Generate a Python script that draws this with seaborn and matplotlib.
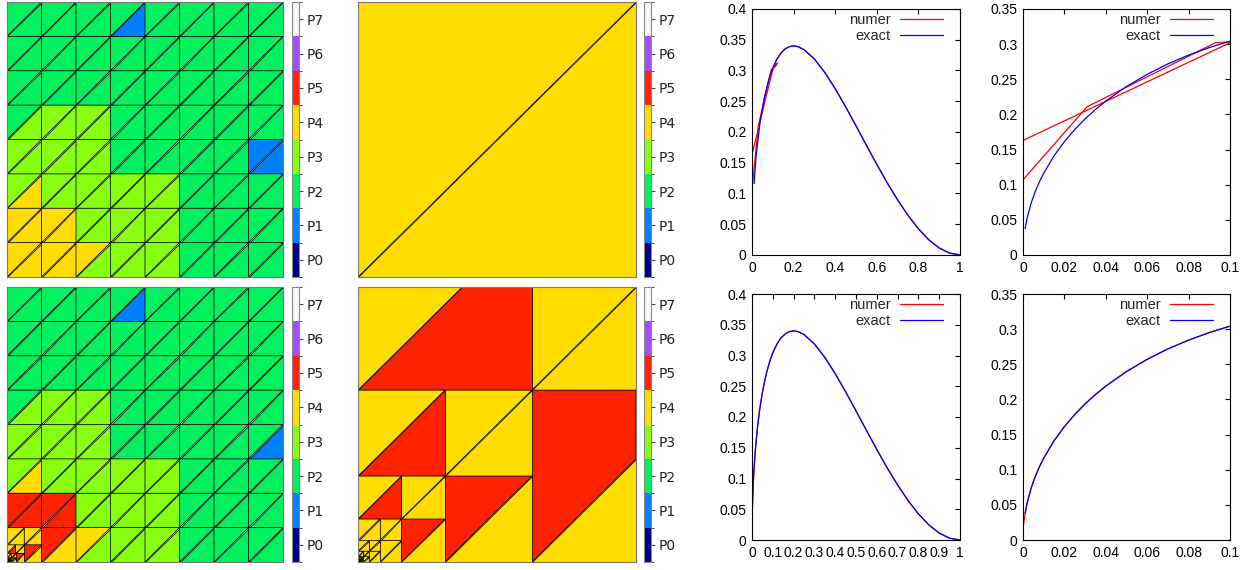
import numpy as np
import pandas as pd
import matplotlib
matplotlib.use("Agg")
import matplotlib.pyplot as plt
from matplotlib.collections import PolyCollection
from matplotlib.colors import ListedColormap, BoundaryNorm
import seaborn as sns

# ---------------------------------------------------------------- data
degree_labels = ["P0", "P1", "P2", "P3", "P4", "P5", "P6", "P7"]
degree_colors = ["#00007f", "#0080ff", "#00f060", "#88ff10",
                 "#ffdd00", "#ff2200", "#a64dff", "#fbf7ff"]

# 8x8 coarse meshes, rows from top; two digits per cell: upper-left, lower-right triangle
coarse_top = [
    "2222222122222222",
    "2222222222222222",
    "2222222222222222",
    "2333332222222222",
    "3333332222222211",
    "3433333333222222",
    "4444333333222222",
    "4444433333222222",
]
coarse_bottom = [
    "2222222122222222",
    "2222222222222222",
    "2222222222222222",
    "2333332222222222",
    "3333332222222221",
    "3433333333222222",
    "5555333333222222",
    "RR54433333222222",
]
# refined corner cell (quadtree): per level (top-left, top-right, bottom-right)
corner_levels = [("44", "44", "54"), ("45", "44", "54"), ("44", "44", "54"),
                 ("44", "44", "44"), ("44", "44", "44"), ("44", "44", "44")]
corner_core = "44"

single_mesh = "44"

# graded mesh toward the corner
graded_splits = [0.625, 0.3125, 0.15625, 0.078125, 0.0390625,
                 0.01953125, 0.009765625, 0.0048828125]
# per level: square U, square L, left tri, left other, right other, right tri
graded_codes = ["444554", "444554", "444554", "444444",
                "444444", "444444", "444444", "444444"]
graded_core = "44"

# curves
exact_coarse_x = [0.01, 0.02, 0.04, 0.06, 0.08, 0.10, 0.12, 0.14, 0.16, 0.18, 0.20, 0.22,
                  0.25, 0.30, 0.35, 0.40, 0.45, 0.50, 0.55, 0.60, 0.65, 0.70, 0.75, 0.80,
                  0.85, 0.90, 0.95, 1.00]
exact_coarse_y = [0.1164, 0.1613, 0.2190, 0.2571, 0.2844, 0.3043, 0.3187, 0.3288, 0.3353,
                  0.3389, 0.3400, 0.3390, 0.3341, 0.3188, 0.2970, 0.2705, 0.2411, 0.2100,
                  0.1784, 0.1472, 0.1173, 0.0895, 0.0643, 0.0425, 0.0246, 0.0113, 0.0029,
                  0.0000]
exact_fine_x = [0.001, 0.002, 0.004, 0.006, 0.008, 0.010, 0.015, 0.020, 0.025, 0.030,
                0.035, 0.040, 0.050, 0.060, 0.070, 0.080, 0.090, 0.100]
exact_fine_y = [0.0375, 0.0529, 0.0745, 0.0909, 0.1046, 0.1164, 0.1412, 0.1613, 0.1786,
                0.1936, 0.2070, 0.2190, 0.2397, 0.2571, 0.2719, 0.2844, 0.2951, 0.3043]

# coarse numerical solution (three pieces)
numer_top_a_x = [0.0, 0.100, 0.123, 0.107]
numer_top_a_y = [0.163, 0.302, 0.312, 0.308]
numer_top_b_x = [0.0, 0.031, 0.093, 0.100, 0.118]
numer_top_b_y = [0.107, 0.211, 0.302, 0.303, 0.309]
numer_top_c_x = [0.10, 0.12, 0.14, 0.16, 0.18, 0.20, 0.22, 0.25, 0.30, 0.35, 0.40, 0.45,
                 0.50, 0.55, 0.60, 0.65, 0.70, 0.75, 0.80, 0.85, 0.90, 0.95, 1.00]
numer_top_c_y = [0.3030, 0.3185, 0.3287, 0.3352, 0.3388, 0.3399, 0.3389, 0.3338, 0.3184,
                 0.2966, 0.2703, 0.2410, 0.2100, 0.1786, 0.1474, 0.1175, 0.0897, 0.0645,
                 0.0428, 0.0249, 0.0116, 0.0031, 0.0002]
# refined numerical solution
numer_near0_x = [0.0, 0.0002, 0.0005]
numer_near0_y = [0.013, 0.020, 0.027]
exact_near0_x = [0.0002]
exact_near0_y = [0.0168]

top_xticks_full = [0, 0.2, 0.4, 0.6, 0.8, 1.0]
top_xlabels_full = ["0", "0.2", "0.4", "0.6", "0.8", "1"]
bot_xticks_full = [0, 0.1, 0.2, 0.3, 0.4, 0.5, 0.6, 0.7, 0.8, 0.9, 1.0]
bot_xlabels_full = ["0", "0.1", "0.2", "0.3", "0.4", "0.5", "0.6", "0.7", "0.8", "0.9", "1"]
xticks_zoom = [0, 0.02, 0.04, 0.06, 0.08, 0.1]
xlabels_zoom = ["0", "0.02", "0.04", "0.06", "0.08", "0.1"]
yticks_full = [0, 0.05, 0.1, 0.15, 0.2, 0.25, 0.3, 0.35, 0.4]
ylabels_full = ["0", "0.05", "0.1", "0.15", "0.2", "0.25", "0.3", "0.35", "0.4"]
yticks_zoom = [0, 0.05, 0.1, 0.15, 0.2, 0.25, 0.3, 0.35]
ylabels_zoom = ["0", "0.05", "0.1", "0.15", "0.2", "0.25", "0.3", "0.35"]

# ---------------------------------------------------------------- style
sns.set_style("white")
plt.rcParams["font.family"] = ["DejaVu Sans"]

cmap = ListedColormap(degree_colors)
norm = BoundaryNorm(np.arange(-0.5, 8.5, 1.0), cmap.N)

W, H = 1257, 570
fig = plt.figure(figsize=(W / 100, H / 100), dpi=100)


def rect(x0, y_top, w, h):
    return [x0 / W, (H - y_top - h) / H, w / W, h / H]


# ---------------------------------------------------------------- mesh builders
def add_square(verts, vals, x0, y0, s, code):
    verts.append([(x0, y0), (x0 + s, y0 + s), (x0, y0 + s)])
    vals.append(int(code[0]))
    verts.append([(x0, y0), (x0 + s, y0), (x0 + s, y0 + s)])
    vals.append(int(code[1]))


def add_corner(verts, vals, x0, y0, s):
    for tl, tr, br in corner_levels:
        h = s / 2
        add_square(verts, vals, x0, y0 + h, h, tl)
        add_square(verts, vals, x0 + h, y0 + h, h, tr)
        add_square(verts, vals, x0 + h, y0, h, br)
        s = h
    add_square(verts, vals, x0, y0, s, corner_core)


def coarse_mesh(rows):
    verts, vals = [], []
    n = len(rows)
    h = 1.0 / n
    for r, row in enumerate(rows):
        for c in range(n):
            code = row[2 * c:2 * c + 2]
            x0, y0 = c * h, 1.0 - (r + 1) * h
            if code == "RR":
                add_corner(verts, vals, x0, y0, h)
            else:
                add_square(verts, vals, x0, y0, h, code)
    return verts, vals


def graded_mesh():
    verts, vals = [], []
    s = 1.0
    for c, code in zip(graded_splits, graded_codes):
        d = [int(ch) for ch in code]
        hh = s - c
        verts += [[(c, c), (s, s), (c, s)], [(c, c), (s, c), (s, s)]]
        vals += [d[0], d[1]]
        verts += [[(0, c), (hh, s), (0, s)], [(0, c), (c, c), (c, s), (hh, s)]]
        vals += [d[2], d[3]]
        verts += [[(c, 0), (s, hh), (s, c), (c, c)], [(c, 0), (s, 0), (s, hh)]]
        vals += [d[4], d[5]]
        s = c
    add_square(verts, vals, 0, 0, s, graded_core)
    return verts, vals


def single():
    verts, vals = [], []
    add_square(verts, vals, 0, 0, 1.0, single_mesh)
    return verts, vals


def mesh_panel(mrect, crect, verts, vals):
    ax = fig.add_axes(mrect)
    pc = PolyCollection(verts, array=np.array(vals, dtype=float), cmap=cmap, norm=norm,
                        edgecolors="black", linewidths=0.55)
    ax.add_collection(pc)
    ax.set_xlim(0, 1)
    ax.set_ylim(0, 1)
    ax.set_xticks([])
    ax.set_yticks([])
    for sp in ax.spines.values():
        sp.set_color("#777777")
        sp.set_linewidth(0.8)
    cax = fig.add_axes(crect)
    cb = fig.colorbar(pc, cax=cax, ticks=list(range(len(degree_labels))))
    cb.set_ticklabels(degree_labels)
    cb.outline.set_edgecolor("#888888")
    cb.outline.set_linewidth(0.8)
    cax.tick_params(length=3, width=0.8, color="#444444", labelsize=10, pad=2.5,
                    labelcolor="#222222")


v, c = coarse_mesh(coarse_top)
mesh_panel(rect(7, 2, 276, 275), rect(292, 2, 7, 275), v, c)
v, c = single()
mesh_panel(rect(358, 2, 278, 275), rect(644, 2, 7, 275), v, c)
v, c = coarse_mesh(coarse_bottom)
mesh_panel(rect(7, 287, 276, 275), rect(292, 287, 7, 275), v, c)
v, c = graded_mesh()
mesh_panel(rect(358, 287, 278, 275), rect(644, 287, 7, 275), v, c)


# ---------------------------------------------------------------- line panels
def line_panel(arect, segs, ex_x, ex_y, xlim, ylim, xt, xl, yt, yl):
    ax = fig.add_axes(arect)
    rows = []
    for i, (sx, sy) in enumerate(segs):
        for x, y in zip(sx, sy):
            rows.append((i, x, y))
    df = pd.DataFrame(rows, columns=["seg", "x", "y"])
    sns.lineplot(data=df, x="x", y="y", units="seg", estimator=None, sort=False,
                 color="#ff0000", linewidth=0.9, ax=ax)
    sns.lineplot(x=ex_x, y=ex_y, estimator=None, sort=False,
                 color="#0000ff", linewidth=0.9, ax=ax)
    ax.set_xlim(*xlim)
    ax.set_ylim(*ylim)
    ax.set_xticks(xt)
    ax.set_xticklabels(xl)
    ax.set_yticks(yt)
    ax.set_yticklabels(yl)
    ax.set_xlabel("")
    ax.set_ylabel("")
    for sp in ax.spines.values():
        sp.set_color("black")
        sp.set_linewidth(0.8)
    ax.tick_params(direction="in", top=True, right=True, length=3.8, width=0.8,
                   labelsize=10, pad=4, colors="black")
    for lab in ax.get_xticklabels() + ax.get_yticklabels():
        lab.set_fontfamily(["Liberation Sans", "DejaVu Sans"])
    ax.legend(handles=[ax.lines[0], ax.lines[-1]], labels=["numer", "exact"],
              loc="upper right", bbox_to_anchor=(0.918, 0.985), markerfirst=False,
              frameon=False, handlelength=2.95, handletextpad=0.65,
              labelspacing=0.15, borderaxespad=0, borderpad=0,
              prop={"family": ["Liberation Sans", "DejaVu Sans"], "size": 10.5})
    return ax


top_segs = [(numer_top_a_x, numer_top_a_y), (numer_top_b_x, numer_top_b_y),
            (numer_top_c_x, numer_top_c_y)]
bot_numer_x = numer_near0_x + exact_fine_x + exact_coarse_x[6:]
bot_numer_y = numer_near0_y + exact_fine_y + exact_coarse_y[6:]
bot_segs = [(bot_numer_x, bot_numer_y)]
bot_exact_x = exact_near0_x + exact_fine_x + exact_coarse_x[6:]
bot_exact_y = exact_near0_y + exact_fine_y + exact_coarse_y[6:]

line_panel(rect(752, 9, 208, 246), top_segs, exact_coarse_x, exact_coarse_y,
           (0, 1), (0, 0.4), top_xticks_full, top_xlabels_full, yticks_full, ylabels_full)
line_panel(rect(1023, 9, 207, 246), top_segs, exact_fine_x, exact_fine_y,
           (0, 0.1), (0, 0.35), xticks_zoom, xlabels_zoom, yticks_zoom, ylabels_zoom)
line_panel(rect(752, 294, 208, 246), bot_segs, bot_exact_x, bot_exact_y,
           (0, 1), (0, 0.4), bot_xticks_full, bot_xlabels_full, yticks_full, ylabels_full)
line_panel(rect(1023, 294, 207, 246), bot_segs, exact_fine_x, exact_fine_y,
           (0, 0.1), (0, 0.35), xticks_zoom, xlabels_zoom, yticks_zoom, ylabels_zoom)

fig.savefig("out.png", dpi=100)
